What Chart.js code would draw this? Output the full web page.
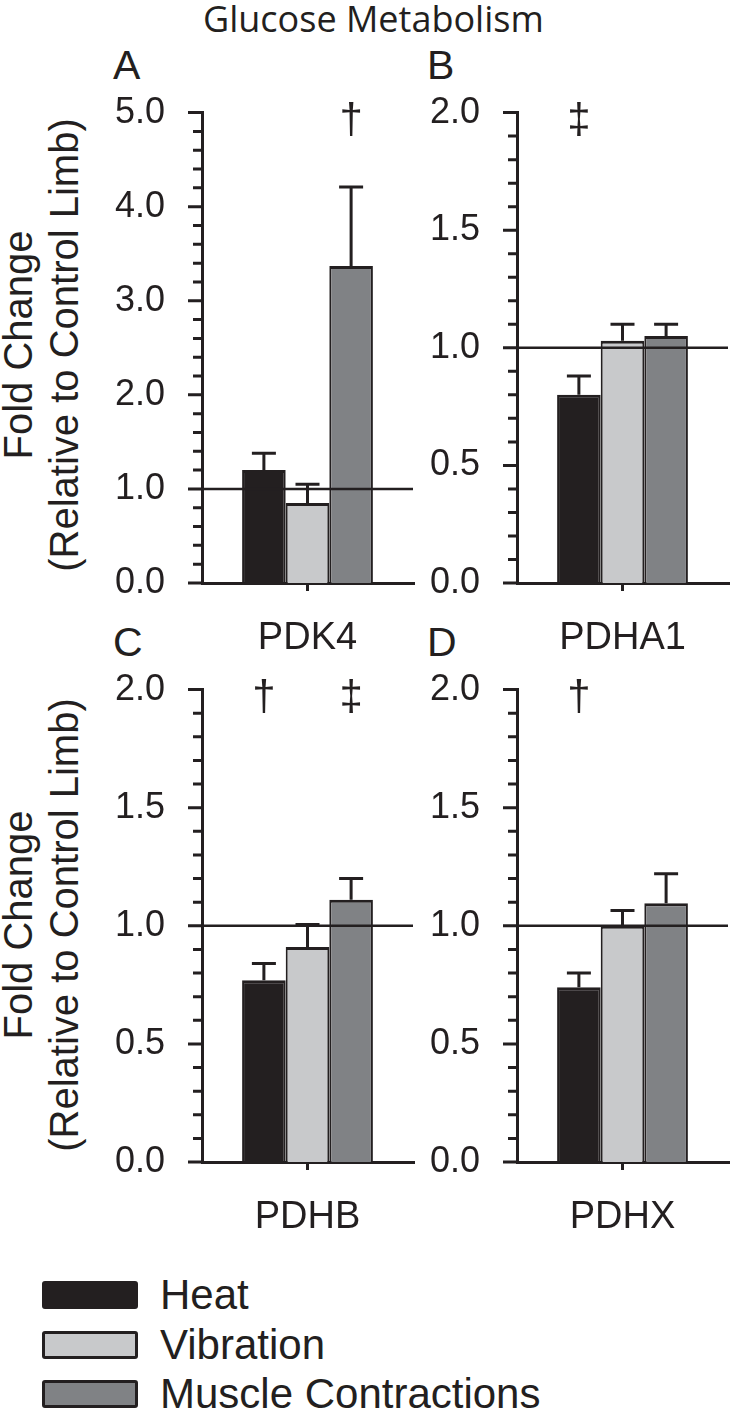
<!DOCTYPE html>
<html>
<head>
<meta charset="utf-8">
<script src="https://cdn.jsdelivr.net/npm/chart.js@4.4.1/dist/chart.umd.min.js"></script>
<style>
  body { margin: 0; width: 733px; height: 1411px; background: #fff; position: relative; overflow: hidden;
         font-family: "Liberation Sans", Arial, sans-serif; color: #231f20; }
  canvas { position: absolute; }
  .txt { position: absolute; white-space: nowrap; line-height: 1; }
  .ytitle { position: absolute; white-space: nowrap; line-height: 1; font-size: 40px;
            transform: translate(-50%, -50%) rotate(-90deg); }
  .swatch { position: absolute; left: 42px; width: 90px; height: 22px; border: 3px solid #231f20; border-radius: 3px; }
</style>
</head>
<body>

<div class="txt" style="left:203px; top:1px; font-family:'Open Sans', sans-serif; font-size:36px;">Glucose Metabolism</div>

<div class="txt" style="left:113px; top:45px; font-size:41px;">A</div>
<div class="txt" style="left:427px; top:45px; font-size:41px;">B</div>
<div class="txt" style="left:113px; top:622px; font-size:41px;">C</div>
<div class="txt" style="left:427px; top:622px; font-size:41px;">D</div>

<div class="ytitle" style="left:18px; top:345px;">Fold Change</div>
<div class="ytitle" style="left:64px; top:345px;">(Relative to Control Limb)</div>
<div class="ytitle" style="left:18px; top:925px;">Fold Change</div>
<div class="ytitle" style="left:64px; top:925px;">(Relative to Control Limb)</div>

<canvas id="chartA" width="323" height="629" style="left:100px; top:54px;"></canvas>
<canvas id="chartB" width="320" height="629" style="left:413px; top:54px;"></canvas>
<canvas id="chartC" width="323" height="631" style="left:100px; top:631px;"></canvas>
<canvas id="chartD" width="320" height="631" style="left:413px; top:631px;"></canvas>

<div id="legend"></div>

<script>
// data
const groups = ["Heat", "Vibration", "Muscle Contractions"];
const groupColors = ["#231f20", "#c8c9cb", "#808285"];

const pdk4Mean = [1.20, 0.85, 3.37];
const pdk4Sem = [0.18, 0.20, 0.84];
const pdk4Sig = ["", "", "†"];

const pdha1Mean = [0.80, 1.03, 1.05];
const pdha1Sem = [0.08, 0.07, 0.05];
const pdha1Sig = ["‡", "", ""];

const pdhbMean = [0.77, 0.91, 1.11];
const pdhbSem = [0.07, 0.095, 0.09];
const pdhbSig = ["†", "", "‡"];

const pdhxMean = [0.74, 1.00, 1.095];
const pdhxSem = [0.06, 0.065, 0.125];
const pdhxSig = ["†", "", ""];

const ink = "#231f20";
const fontFamily = "'Liberation Sans', Arial, sans-serif";

// error bars, reference line, y tick marks and significance marks
const panelDecor = {
  id: "panelDecor",
  afterDatasetsDraw(chart, args, opts) {
    const ctx = chart.ctx;
    const y = chart.scales.y;
    const area = chart.chartArea;
    ctx.save();
    ctx.strokeStyle = ink;
    ctx.fillStyle = ink;

    // line at 1.0
    ctx.lineWidth = 2.5;
    const y1 = y.getPixelForValue(1);
    ctx.beginPath();
    ctx.moveTo(area.left, y1);
    ctx.lineTo(area.right, y1);
    ctx.stroke();

    ctx.lineWidth = 3;
    ctx.font = "42px " + fontFamily;
    ctx.textAlign = "center";
    ctx.textBaseline = "middle";
    chart.data.datasets.forEach((ds, i) => {
      chart.getDatasetMeta(i).data.forEach((bar, j) => {
        const top = y.getPixelForValue(ds.data[j] + ds.errors[j]);
        ctx.beginPath();
        ctx.moveTo(bar.x, bar.y);
        ctx.lineTo(bar.x, top);
        ctx.moveTo(bar.x - 12, top);
        ctx.lineTo(bar.x + 12, top);
        ctx.stroke();
        if (ds.sig[j]) ctx.fillText(ds.sig[j], bar.x, area.top + 9);
      });
    });

    // ticks on the value axis, long for labelled ones
    ctx.beginPath();
    y.ticks.forEach((t, k) => {
      const py = y.getPixelForTick(k);
      const len = isMajor(t.value, opts.major) ? 14 : 9;
      ctx.moveTo(area.left - len, py);
      ctx.lineTo(area.left, py);
    });
    ctx.stroke();
    ctx.restore();
  }
};

function isMajor(v, major) {
  return Math.abs(v / major - Math.round(v / major)) < 1e-6;
}

function makePanel(id, gene, means, sems, sigs, max, minor, major, yWidth, padRight, xHeight) {
  return new Chart(document.getElementById(id), {
    type: "bar",
    data: {
      labels: [gene],
      datasets: groups.map((g, i) => ({
        label: g,
        data: [means[i]],
        errors: [sems[i]],
        sig: [sigs[i]],
        backgroundColor: groupColors[i],
        borderColor: ink,
        borderWidth: { top: 3, left: 2, right: 2, bottom: 0 },
        borderSkipped: false,
        categoryPercentage: 0.62,
        barPercentage: 1.0
      }))
    },
    options: {
      responsive: false,
      animation: false,
      devicePixelRatio: 1,
      layout: { padding: { top: 0, right: padRight, left: 0, bottom: 0 } },
      plugins: {
        legend: { display: false },
        tooltip: { enabled: false },
        panelDecor: { major: major }
      },
      scales: {
        x: {
          grid: { display: true, drawOnChartArea: false, drawTicks: true, tickLength: 8,
                  offset: false, lineWidth: 3, color: ink },
          border: { display: true, width: 3, color: ink },
          ticks: { color: ink, font: { family: fontFamily, size: 38 }, padding: 25, maxRotation: 0 },
          afterFit(scale) { scale.height = xHeight; }
        },
        y: {
          min: 0,
          max: max,
          grid: { display: false, drawTicks: false },
          border: { display: true, width: 3, color: ink },
          ticks: {
            stepSize: minor,
            autoSkip: false,
            padding: 37,
            color: ink,
            font: { family: fontFamily, size: 36 },
            callback: v => isMajor(v, major) ? v.toFixed(1) : ""
          },
          afterFit(scale) { scale.width = yWidth; }
        }
      }
    },
    plugins: [panelDecor]
  });
}

makePanel("chartA", "PDK4", pdk4Mean, pdk4Sem, pdk4Sig, 5, 0.2, 1, 102, 10, 100);
makePanel("chartB", "PDHA1", pdha1Mean, pdha1Sem, pdha1Sig, 2, 0.1, 0.5, 104, 5, 100);
makePanel("chartC", "PDHB", pdhbMean, pdhbSem, pdhbSig, 2, 0.1, 0.5, 102, 10, 100);
makePanel("chartD", "PDHX", pdhxMean, pdhxSem, pdhxSig, 2, 0.1, 0.5, 104, 5, 100);

// legend below the panels
const legend = document.getElementById("legend");
const legendTop = [1281, 1331, 1380];
groups.forEach((g, i) => {
  const sw = document.createElement("div");
  sw.className = "swatch";
  sw.style.top = legendTop[i] + "px";
  sw.style.background = groupColors[i];
  legend.appendChild(sw);

  const label = document.createElement("div");
  label.className = "txt";
  label.style.left = "160px";
  label.style.top = (legendTop[i] - 7) + "px";
  label.style.fontSize = "42px";
  label.textContent = g;
  legend.appendChild(label);
});
</script>
</body>
</html>
